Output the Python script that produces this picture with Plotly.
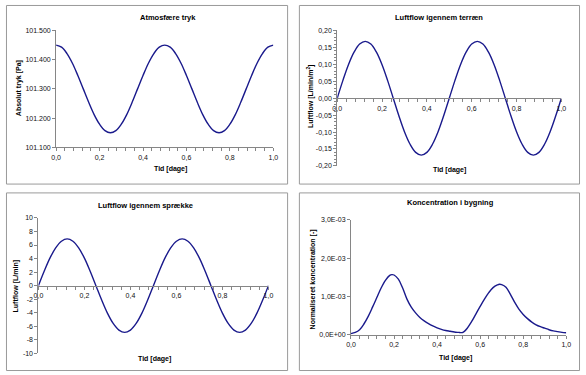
import plotly.graph_objects as go

W, H = 586, 375

# ---------------- data ----------------
t_sine = [0.000, 0.025, 0.050, 0.075, 0.100, 0.125, 0.150, 0.175, 0.200, 0.225,
          0.250, 0.275, 0.300, 0.325, 0.350, 0.375, 0.400, 0.425, 0.450, 0.475,
          0.500, 0.525, 0.550, 0.575, 0.600, 0.625, 0.650, 0.675, 0.700, 0.725,
          0.750, 0.775, 0.800, 0.825, 0.850, 0.875, 0.900, 0.925, 0.950, 0.975, 1.000]

pressure_pa = [101450, 101443, 101421, 101388, 101346, 101300, 101254, 101212, 101179, 101157,
               101150, 101157, 101179, 101212, 101254, 101300, 101346, 101388, 101421, 101443,
               101450, 101443, 101421, 101388, 101346, 101300, 101254, 101212, 101179, 101157,
               101150, 101157, 101179, 101212, 101254, 101300, 101346, 101388, 101421, 101443, 101450]

flow_terrain = [0.000, 0.052, 0.099, 0.136, 0.160, 0.168, 0.160, 0.136, 0.099, 0.052,
                0.000, -0.052, -0.099, -0.136, -0.160, -0.168, -0.160, -0.136, -0.099, -0.052,
                0.000, 0.052, 0.099, 0.136, 0.160, 0.168, 0.160, 0.136, 0.099, 0.052,
                0.000, -0.052, -0.099, -0.136, -0.160, -0.168, -0.160, -0.136, -0.099, -0.052, 0.000]

flow_crack = [0.00, 2.13, 4.06, 5.58, 6.56, 6.90, 6.56, 5.58, 4.06, 2.13,
              0.00, -2.13, -4.06, -5.58, -6.56, -6.90, -6.56, -5.58, -4.06, -2.13,
              0.00, 2.13, 4.06, 5.58, 6.56, 6.90, 6.56, 5.58, 4.06, 2.13,
              0.00, -2.13, -4.06, -5.58, -6.56, -6.90, -6.56, -5.58, -4.06, -2.13, 0.00]

t_conc = [0.00, 0.02, 0.04, 0.06, 0.08, 0.10, 0.12, 0.14, 0.16, 0.18, 0.19, 0.20,
          0.22, 0.24, 0.26, 0.28, 0.30, 0.32, 0.34, 0.36, 0.38, 0.40, 0.42, 0.44,
          0.46, 0.48, 0.50, 0.51, 0.52, 0.54, 0.56, 0.58, 0.60, 0.62, 0.64, 0.66,
          0.68, 0.69, 0.70, 0.72, 0.74, 0.76, 0.78, 0.80, 0.82, 0.84, 0.86, 0.88,
          0.90, 0.92, 0.94, 0.96, 0.98, 1.00]
conc = [0.00003, 0.00006, 0.00013, 0.00028, 0.00048, 0.00072, 0.00097, 0.00122, 0.00142, 0.00155, 0.00157, 0.00156,
        0.00145, 0.00122, 0.00093, 0.00072, 0.00057, 0.00045, 0.00036, 0.00029, 0.00023, 0.00018, 0.00014, 0.00011,
        0.00009, 0.00007, 0.00006, 0.000055, 0.00006, 0.00017, 0.00034, 0.00054, 0.00074, 0.00093, 0.00110, 0.00123,
        0.00130, 0.00132, 0.00131, 0.00124, 0.00106, 0.00085, 0.00067, 0.00053, 0.00042, 0.00033, 0.00026, 0.00021,
        0.00017, 0.00013, 0.00010, 0.00008, 0.00006, 0.00005]

titles = ["Atmosfære tryk", "Luftflow igennem terræn", "Luftflow igennem sprække", "Koncentration i bygning"]
x_title = "Tid [dage]"
y_titles = ["Absolut tryk [Pa]", "Luftflow [L/min/m<sup>2</sup>]", "Luftflow [L/min]", "Normaliseret koncentration [-]"]

y2_ticks = [-0.20, -0.15, -0.10, -0.05, 0.00, 0.05, 0.10, 0.15, 0.20]
y2_labels = ["-0,20", "-0,15", "-0,10", "-0,05", "0,00", "0,05", "0,10", "0,15", "0,20"]
y3_ticks = [-10, -8, -6, -4, -2, 0, 2, 4, 6, 8, 10]
y3_labels = ["-10", "-8", "-6", "-4", "-2", "0", "2", "4", "6", "8", "10"]
y4_ticks = [0.0, 0.001, 0.002, 0.003]
y4_labels = ["0,0E+00", "1,0E-03", "2,0E-03", "3,0E-03"]

# ---------------- styling ----------------
FONT = "Arial, Liberation Sans, sans-serif"
LINE = "#1a1a8c"
AX = "#868686"
TICKFONT = dict(family=FONT, size=7, color="#111111")


def px_x(p):
    return p / W


def px_y(p):
    return 1 - p / H


fig = go.Figure()
fig.add_trace(go.Scatter(x=t_sine, y=pressure_pa, mode="lines", line=dict(color=LINE, width=1.4, shape="spline"),
                         xaxis="x", yaxis="y", showlegend=False))
fig.add_trace(go.Scatter(x=t_sine, y=flow_terrain, mode="lines", line=dict(color=LINE, width=1.4, shape="spline"),
                         xaxis="x2", yaxis="y2", showlegend=False))
fig.add_trace(go.Scatter(x=t_sine, y=flow_crack, mode="lines", line=dict(color=LINE, width=1.4, shape="spline"),
                         xaxis="x3", yaxis="y3", showlegend=False))
fig.add_trace(go.Scatter(x=t_conc, y=conc, mode="lines", line=dict(color=LINE, width=1.4, shape="spline"),
                         xaxis="x4", yaxis="y4", showlegend=False))

# plot-area pixel boxes (left, right, top, bottom)
boxes = [(52, 273, 27, 146), (338, 566, 27, 165), (34, 268, 218, 356), (352, 571, 220, 337)]


def xax(i, box, free_mid=False):
    l, r, t, b = box
    d = dict(domain=[px_x(l), px_x(r)], range=[0, 1], dtick=0.2, tick0=0, tickformat=".1f",
             ticks="outside", ticklen=3, tickcolor=AX, tickwidth=1,
             minor=dict(dtick=0.04, tick0=0, ticks="outside", ticklen=3, tickcolor=AX, tickwidth=1, showgrid=False),
             showline=True, linecolor=AX, linewidth=1, showgrid=False, zeroline=False,
             tickfont=TICKFONT, fixedrange=True)
    if free_mid:
        d["anchor"] = "free"
        d["position"] = (px_y(t) + px_y(b)) / 2
    else:
        d["anchor"] = "y" if i == 1 else f"y{i}"
    return d


def yax(i, box, **kw):
    l, r, t, b = box
    d = dict(domain=[px_y(b), px_y(t)], anchor="x" if i == 1 else f"x{i}",
             ticks="outside", ticklen=3, tickcolor=AX, tickwidth=1,
             showline=True, linecolor=AX, linewidth=1, showgrid=False, zeroline=False,
             tickfont=TICKFONT, fixedrange=True)
    d.update(kw)
    return d


layout = dict(
    width=W, height=H, margin=dict(l=0, r=0, t=0, b=0),
    paper_bgcolor="white", plot_bgcolor="white",
    separators=",.",
    font=dict(family=FONT, size=7, color="#000000"),
    showlegend=False,
)
layout["xaxis"] = xax(1, boxes[0])
layout["yaxis"] = yax(1, boxes[0], range=[101100, 101500], dtick=100, tick0=101100, tickformat=",.0f")
layout["xaxis2"] = xax(2, boxes[1], free_mid=True)
layout["yaxis2"] = yax(2, boxes[1], range=[-0.2, 0.2], tickvals=y2_ticks, ticktext=y2_labels,
                       minor=dict(dtick=0.01, tick0=0, ticks="outside", ticklen=2, tickcolor=AX, showgrid=False))
layout["xaxis3"] = xax(3, boxes[2], free_mid=True)
layout["yaxis3"] = yax(3, boxes[2], range=[-10, 10], tickvals=y3_ticks, ticktext=y3_labels)
layout["xaxis4"] = xax(4, boxes[3])
layout["yaxis4"] = yax(4, boxes[3], range=[0, 0.003], tickvals=y4_ticks, ticktext=y4_labels)

fig.update_layout(**layout)

# panel borders
panels = [(1, 287, 1, 183), (299, 584, 1, 183), (1, 287, 192, 373), (299, 584, 192, 373)]
for (l, r, t, b) in panels:
    fig.add_shape(type="rect", xref="paper", yref="paper",
                  x0=px_x(l + 0.5), x1=px_x(r + 0.5), y0=px_y(b + 0.5), y1=px_y(t + 0.5),
                  line=dict(color="#9a9a9a", width=1), fillcolor="rgba(0,0,0,0)", layer="below")

# titles
title_pos = [(166, 14), (442, 14), (143, 205), (453, 202)]
for txt, (x, y) in zip(titles, title_pos):
    fig.add_annotation(text=f"<b>{txt}</b>", x=px_x(x), y=px_y(y), xref="paper", yref="paper",
                       showarrow=False, xanchor="center", yanchor="middle",
                       font=dict(family=FONT, size=7.5, color="#000000"))

xt_pos = [(168, 168), (452, 169), (152, 362), (458, 361)]
for (x, y) in xt_pos:
    fig.add_annotation(text=f"<b>{x_title}</b>", x=px_x(x), y=px_y(y), xref="paper", yref="paper",
                       showarrow=False, xanchor="center", yanchor="middle",
                       font=dict(family=FONT, size=7, color="#000000"))

yt_pos = [(15, 86), (311, 94), (11, 288), (313, 281)]
for txt, (x, y) in zip(y_titles, yt_pos):
    fig.add_annotation(text=f"<b>{txt}</b>", x=px_x(x), y=px_y(y), xref="paper", yref="paper",
                       showarrow=False, xanchor="center", yanchor="middle", textangle=-90,
                       font=dict(family=FONT, size=7, color="#000000"))

fig.write_html(
    "out.html",
    config={"displayModeBar": False},
    post_script="document.body.style.margin='0';document.body.style.padding='0';"
                "document.body.style.overflow='hidden';",
)
